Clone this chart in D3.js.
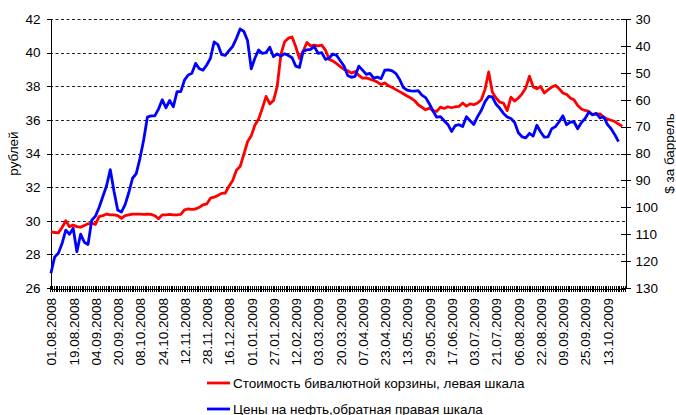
<!DOCTYPE html>
<html>
<head>
<meta charset="utf-8">
<script src="https://cdn.jsdelivr.net/npm/d3@7"></script>
<style>
body { margin:0; background:#fff; }
text { font-family: "Liberation Sans", Arial, sans-serif; fill:#000; }
</style>
</head>
<body>
<script>
var width = 676, height = 415;
var nCats = 310;      // trading days on the category axis
var sampleStep = 2;   // one value every 2 trading days

// x axis labels, one every 12 trading days
var tickLabels = ["01.08.2008","19.08.2008","04.09.2008","20.09.2008","08.10.2008","24.10.2008",
  "12.11.2008","28.11.2008","16.12.2008","01.01.2009","27.01.2009","12.02.2009","03.03.2009",
  "20.03.2009","07.04.2009","23.04.2009","13.05.2009","29.05.2009","17.06.2009","03.07.2009",
  "21.07.2009","06.08.2009","22.08.2009","09.09.2009","25.09.2009","13.10.2009"];
var labelEvery = 12;

// bi-currency basket, rubles (left scale)
var basket = [29.35,29.3,29.28,29.6,30.0,29.65,29.75,29.65,29.62,29.72,29.82,29.85,29.78,30.25,30.3,30.4,
  30.35,30.35,30.3,30.15,30.3,30.35,30.4,30.4,30.4,30.38,30.4,30.38,30.3,30.12,30.35,30.35,30.38,30.35,
  30.35,30.38,30.65,30.7,30.68,30.7,30.8,30.95,31.0,31.34,31.4,31.5,31.63,31.65,32.05,32.4,33.0,33.22,
  33.95,34.7,35.05,35.7,36.05,36.7,37.4,36.95,37.15,38.0,39.9,40.65,40.86,40.93,40.35,39.65,40.1,40.6,
  40.4,40.45,40.4,40.45,40.15,39.6,39.5,39.35,39.17,39.0,38.92,38.78,38.88,38.65,38.48,38.5,38.42,38.35,
  38.25,38.1,38.2,38.03,37.92,37.8,37.68,37.55,37.42,37.3,37.15,36.9,36.75,36.6,36.7,36.55,36.5,36.76,
  36.68,36.78,36.72,36.78,36.8,37.0,36.82,36.95,36.9,37.0,37.2,37.8,38.85,37.65,37.3,37.05,37.0,36.55,
  37.35,37.12,37.3,37.55,37.9,38.6,37.95,37.85,37.99,37.6,37.78,37.95,38.05,37.85,37.6,37.52,37.3,37.19,
  36.85,36.65,36.56,36.5,36.32,36.34,36.36,36.15,36.05,35.98,35.9,35.75,35.62];

// oil price, $ per barrel (reversed right scale)
var oil = [124.5,118.5,117.1,113.5,108.5,110,107.8,116.5,110,113,113.8,104.8,103.3,100,96,92,86,94,101,
  101.8,99,94.5,89.2,87.5,81.8,75,66.5,66,66,63.5,60,63,60.3,62.6,57,57,52.7,50.8,50.2,46.5,48.5,49,47.1,
  44.6,38.5,39.5,43.2,43.5,41.8,40.2,37.2,33.7,34.6,38,48.5,44.5,41.5,42.8,42.5,40.5,44,43,43.8,42.9,
  43.6,44.4,47.5,48,42,41.5,41.3,40.2,42.8,42.5,45,44.5,43,43.5,45.5,47.5,51,51.7,51.3,47.5,49,50.6,50.2,
  52,51.6,52.2,49,48.9,49.3,50.3,52.5,55.5,56.4,56.7,56.8,56.6,58.3,59.2,61.5,64.2,66.5,66.3,67.8,69.2,
  71.8,69.6,69.3,70,66.3,67.8,69.2,66.3,64,60.8,58.8,59,61.7,63.2,65.1,66.4,67,68.5,72.3,73.8,74.2,72.5,
  73.5,69.5,72,73.9,73.8,70.8,70,68.2,66,69.3,68.3,68.2,70.8,68.5,67,64.6,65.6,65.1,66.8,66.4,69.2,70.8,
  73,75.6];

var leftTicks = [26,28,30,32,34,36,38,40,42];
var rightTicks = [30,40,50,60,70,80,90,100,110,120,130];
var seriesNames = ["Стоимость бивалютной корзины, левая шкала", "Цены на нефть,обратная правая шкала"];
var seriesColors = ["#ff0000", "#0000ff"];

var plot = {left:50, right:625, top:19, bottom:288};

var svg = d3.select("body").append("svg")
  .attr("width", width).attr("height", height);

var x = d3.scaleLinear().domain([0, nCats]).range([plot.left, plot.right]);
var yL = d3.scaleLinear().domain([26, 42]).range([plot.bottom, plot.top]);
var yR = d3.scaleLinear().domain([30, 130]).range([plot.top, plot.bottom]);

// dashed grid on the left scale
svg.append("g").selectAll("line")
  .data(leftTicks.slice(1))
  .enter().append("line")
  .attr("x1", plot.left).attr("x2", plot.right)
  .attr("y1", function(d){ return Math.round(yL(d)) + 0.5; })
  .attr("y2", function(d){ return Math.round(yL(d)) + 0.5; })
  .style("stroke", "#222")
  .style("stroke-dasharray", "3,2.5");

// left axis
var gL = svg.append("g")
  .attr("transform", "translate(" + (plot.left + 0.5) + ",0)")
  .call(d3.axisLeft(yL).tickValues(leftTicks).tickSize(4).tickPadding(6));
// right axis, ticks crossing the line
var gR = svg.append("g")
  .attr("transform", "translate(" + (plot.right + 0.5) + ",0)")
  .call(d3.axisRight(yR).tickValues(rightTicks).tickSize(5).tickPadding(5));
gR.selectAll(".tick line").attr("x1", -5);

// bottom axis: a tick on every category boundary
var gB = svg.append("g")
  .attr("transform", "translate(0," + (plot.bottom + 0.5) + ")")
  .call(d3.axisBottom(x).tickValues(d3.range(0, nCats + 1)).tickSize(3).tickFormat(""));
gB.selectAll(".tick line").attr("y1", -3);

// bottom labels, rotated
var gLab = svg.append("g")
  .attr("transform", "translate(0," + plot.bottom + ")")
  .call(d3.axisBottom(x)
    .tickValues(tickLabels.map(function(d, i){ return i * labelEvery + 0.5; }))
    .tickSize(0).tickPadding(0)
    .tickFormat(function(d, i){ return tickLabels[i]; }));
gLab.select(".domain").remove();
gLab.selectAll("text")
  .attr("transform", "rotate(-90)")
  .attr("x", -10).attr("y", 0).attr("dy", "0.36em")
  .style("text-anchor", "end");

svg.selectAll(".domain, .tick line").style("stroke", "#000").style("shape-rendering", "crispEdges");
svg.selectAll(".tick text").style("font-size", "13.5px").style("font-family", "'Liberation Sans', Arial, sans-serif").style("fill", "#000");

// lines
var xOf = function(d, i){ return x(i * sampleStep + 0.5); };
svg.append("path").datum(basket)
  .attr("d", d3.line().x(xOf).y(function(d){ return yL(d); }))
  .style("fill", "none").style("stroke", seriesColors[0]).style("stroke-width", 2.8)
  .style("stroke-linejoin", "round");
svg.append("path").datum(oil)
  .attr("d", d3.line().x(xOf).y(function(d){ return yR(d); }))
  .style("fill", "none").style("stroke", seriesColors[1]).style("stroke-width", 2.8)
  .style("stroke-linejoin", "round");

// axis titles
svg.append("text")
  .attr("transform", "translate(18," + ((plot.top + plot.bottom) / 2) + ") rotate(-90)")
  .style("text-anchor", "middle").style("font-size", "13.5px")
  .text("рублей");
svg.append("text")
  .attr("transform", "translate(674," + ((plot.top + plot.bottom) / 2) + ") rotate(-90)")
  .style("text-anchor", "middle").style("font-size", "13.5px")
  .text("$ за баррель");

// legend
var leg = svg.append("g").selectAll("g")
  .data(seriesNames).enter().append("g")
  .attr("transform", function(d, i){ return "translate(207," + (383 + i * 26) + ")"; });
leg.append("line")
  .attr("x1", 0).attr("x2", 23)
  .style("stroke", function(d, i){ return seriesColors[i]; })
  .style("stroke-width", 2.8);
leg.append("text")
  .attr("x", 26).attr("dy", "0.35em")
  .style("font-size", "13.5px")
  .text(function(d){ return d; });
</script>
</body>
</html>
